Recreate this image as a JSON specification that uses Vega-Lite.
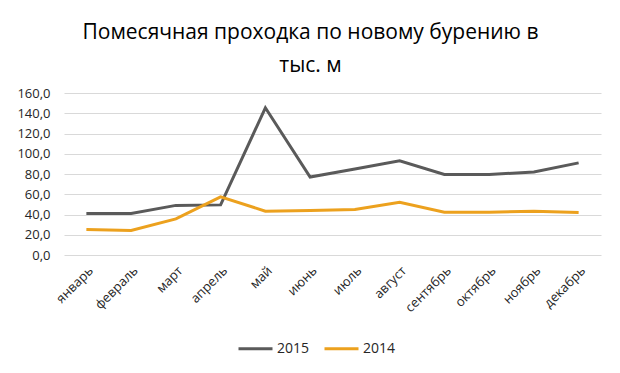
{
  "$schema": "https://vega.github.io/schema/vega-lite/v6.json",
  "autosize": {"type": "none"},
  "width": 537,
  "height": 162,
  "padding": {"left": 64, "top": 93, "right": 19, "bottom": 118},
  "background": "white",
  "config": {
    "locale": {"number": {"decimal": ",", "thousands": " ", "grouping": [3], "currency": ["", " ₽"]}},
    "view": {"stroke": null},
    "font": "Open Sans"
  },
  "title": {
    "text": ["Помесячная проходка по новому бурению в", "тыс. м"],
    "font": "Open Sans",
    "fontSize": 21,
    "fontWeight": "normal",
    "color": "#000000",
    "anchor": "middle",
    "frame": "group",
    "dx": -22,
    "offset": 11,
    "lineHeight": 33
  },
  "data": {
    "values": [
      {"month": "январь", "year": "2015", "value": 41},
      {"month": "февраль", "year": "2015", "value": 41},
      {"month": "март", "year": "2015", "value": 49},
      {"month": "апрель", "year": "2015", "value": 49.5},
      {"month": "май", "year": "2015", "value": 145.4},
      {"month": "июнь", "year": "2015", "value": 77},
      {"month": "июль", "year": "2015", "value": 85},
      {"month": "август", "year": "2015", "value": 93},
      {"month": "сентябрь", "year": "2015", "value": 79.5},
      {"month": "октябрь", "year": "2015", "value": 79.5},
      {"month": "ноябрь", "year": "2015", "value": 82},
      {"month": "декабрь", "year": "2015", "value": 91},
      {"month": "январь", "year": "2014", "value": 25.2},
      {"month": "февраль", "year": "2014", "value": 24.2},
      {"month": "март", "year": "2014", "value": 35.7},
      {"month": "апрель", "year": "2014", "value": 57.5},
      {"month": "май", "year": "2014", "value": 43.3},
      {"month": "июнь", "year": "2014", "value": 44},
      {"month": "июль", "year": "2014", "value": 45},
      {"month": "август", "year": "2014", "value": 52},
      {"month": "сентябрь", "year": "2014", "value": 42.3},
      {"month": "октябрь", "year": "2014", "value": 42.3},
      {"month": "ноябрь", "year": "2014", "value": 43.3},
      {"month": "декабрь", "year": "2014", "value": 42}
    ]
  },
  "mark": {"type": "line", "strokeWidth": 3, "strokeJoin": "miter"},
  "encoding": {
    "x": {
      "field": "month",
      "type": "nominal",
      "sort": null,
      "scale": {"type": "point", "padding": 0.5},
      "axis": {
        "title": null,
        "labelAngle": -45,
        "labelFontSize": 13,
        "labelColor": "#262626",
        "labelFont": "Open Sans",
        "ticks": false,
        "domain": false,
        "grid": false,
        "labelPadding": 9
      }
    },
    "y": {
      "field": "value",
      "type": "quantitative",
      "scale": {"domain": [0, 160]},
      "axis": {
        "title": null,
        "values": [0, 20, 40, 60, 80, 100, 120, 140, 160],
        "format": ".1f",
        "labelFontSize": 13,
        "labelColor": "#262626",
        "labelFont": "Open Sans",
        "ticks": false,
        "domain": false,
        "gridColor": "#d9d9d9",
        "gridWidth": 1,
        "labelPadding": 14
      }
    },
    "color": {
      "field": "year",
      "type": "nominal",
      "scale": {"domain": ["2015", "2014"], "range": ["#5a5a5a", "#eca11e"]},
      "legend": {
        "title": null,
        "orient": "none",
        "direction": "horizontal",
        "legendX": 173,
        "legendY": 237,
        "symbolType": "stroke",
        "symbolSize": 1156,
        "symbolStrokeWidth": 3,
        "labelFontSize": 14,
        "labelColor": "#262626",
        "labelFont": "Open Sans",
        "columnPadding": 8,
        "labelOffset": 3
      }
    }
  }
}
